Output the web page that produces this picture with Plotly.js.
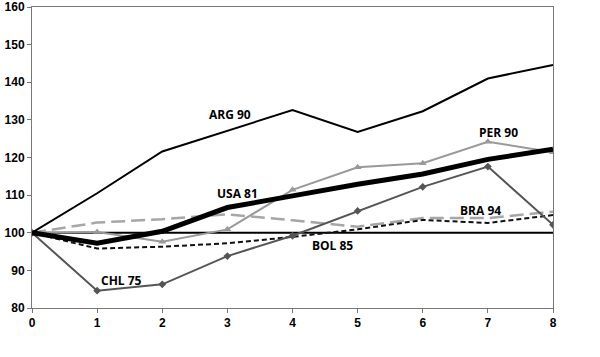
<!DOCTYPE html>
<html><head><meta charset="utf-8">
<script src="https://cdn.plot.ly/plotly-3.0.1.min.js"></script>
<style>html,body{margin:0;padding:0;background:#fff}#c{width:600px;height:357px}</style>
</head><body><div id="c"></div>
<script>
const years = [0,1,2,3,4,5,6,7,8];
const ARG = [100,110.5,121.6,127,132.6,126.8,132.3,141,144.6];
const USA = [100,97.2,100.4,106.7,109.8,112.9,115.6,119.5,122.2];
const PER = [100,100.2,97.6,100.9,111.4,117.4,118.5,124.2,121.4];
const CHL = [100,84.6,86.3,93.8,99.2,105.8,112.2,117.6,102.1];
const BRA = [100,102.7,103.6,104.9,103.3,101.6,103.9,103.9,105.6];
const BOL = [100,95.8,96.3,97.2,98.9,100.9,103.4,102.6,104.7];
const BASE = [100,100,100,100,100,100,100,100,100];
const labels = [
  {t:"ARG 90", x:3.04, y:131.4},
  {t:"USA 81", x:3.16, y:110.4},
  {t:"PER 90", x:7.17, y:126.6},
  {t:"CHL 75", x:1.38, y:87.4},
  {t:"BRA 94", x:6.88, y:106},
  {t:"BOL 85", x:4.62, y:96.6}
];
const traces = [
  {x:years,y:BASE,mode:'lines',line:{color:'#000',width:2}},
  {x:years,y:BRA,mode:'lines',line:{color:'#a6a6a6',width:2.5,dash:'14px,6px'}},
  {x:years,y:BOL,mode:'lines',line:{color:'#111',width:2,dash:'5px,3px'}},
  {x:years,y:CHL,mode:'lines+markers',line:{color:'#555',width:2},marker:{symbol:'diamond',size:6,color:'#555'}},
  {x:years,y:PER,mode:'lines+markers',line:{color:'#999',width:2},marker:{symbol:'triangle-up',size:7,color:'#999'}},
  {x:years,y:ARG,mode:'lines',line:{color:'#000',width:2}},
  {x:years,y:USA,mode:'lines',line:{color:'#000',width:5}}
];
const layout = {
  width:600,height:357,showlegend:false,
  margin:{l:32,r:47,t:7,b:49},
  paper_bgcolor:'#fff',plot_bgcolor:'#fff',
  font:{family:'Liberation Sans, Arial, sans-serif',size:12,color:'#000'},
  xaxis:{range:[0,8],tickvals:years,ticktext:years.map(String),showgrid:false,zeroline:false,
    showline:true,linecolor:'#777',linewidth:1,mirror:true,ticks:'outside',ticklen:4,tickcolor:'#777',
    ticklabeloverflow:'allow',
    tickfont:{family:'Liberation Sans, Arial',size:12,weight:'bold'}},
  yaxis:{range:[80,160],dtick:10,showgrid:false,zeroline:false,
    showline:true,linecolor:'#777',linewidth:1,mirror:true,ticks:'outside',ticklen:4,tickcolor:'#777',
    ticklabeloverflow:'allow',
    tickfont:{family:'Liberation Sans, Arial',size:12,weight:'bold'}},
  annotations: labels.map(l=>({x:l.x,y:l.y,text:'<b>'+l.t+'</b>',showarrow:false,
    font:{family:'Open Sans, sans-serif',size:12,color:'#000'}}))
};
Plotly.newPlot('c',traces,layout,{displayModeBar:false,staticPlot:true});
</script></body></html>
